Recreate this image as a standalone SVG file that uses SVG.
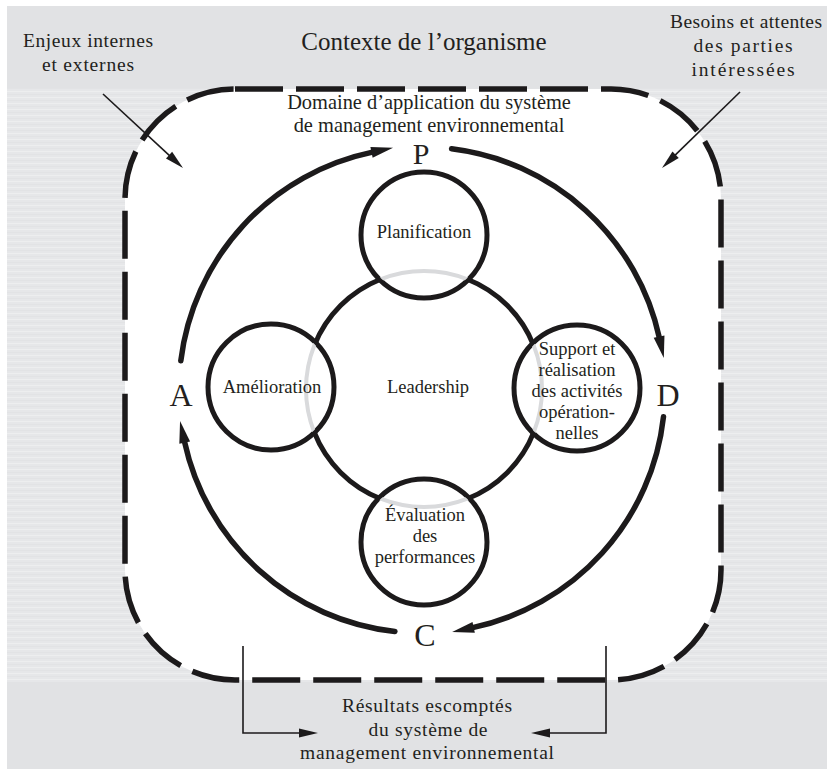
<svg xmlns="http://www.w3.org/2000/svg" width="827" height="769" viewBox="0 0 827 769">
<style>
.t{font-family:"Liberation Serif","DejaVu Serif",serif;fill:#231f20;text-anchor:middle}
.s17{font-size:19.5px}
.sn{font-size:18.5px}
.s19{font-size:20.4px}
.big{font-size:32px}
.node{fill:#fff;stroke:#1c1a1b;stroke-width:5}
.cyc{fill:none;stroke:#1c1a1b;stroke-width:5.5;stroke-linecap:round}
.thin{fill:none;stroke:#1c1a1b;stroke-width:1.6}
</style>
<defs>
<pattern id="stripes" width="40" height="6" patternUnits="userSpaceOnUse">
<rect width="40" height="6" fill="#e6e7e9"/>
<rect y="1" width="40" height="1" fill="#edeeef"/>
<rect y="4" width="40" height="1" fill="#e2e3e5"/>
</pattern>
<marker id="ahBig" markerUnits="userSpaceOnUse" markerWidth="30" markerHeight="30" refX="0" refY="0" orient="auto" overflow="visible">
<path d="M-1,-5.5 L21,0 L-1,5.5 z" fill="#1c1a1b"/>
</marker>
<marker id="ahThin" markerUnits="userSpaceOnUse" markerWidth="30" markerHeight="30" refX="0" refY="0" orient="auto" overflow="visible">
<path d="M-1,-4.5 L18,0 L-1,4.5 z" fill="#1c1a1b"/>
</marker>
<clipPath id="inSmall">
<circle cx="424" cy="235" r="61"/>
<circle cx="271" cy="387" r="61"/>
<circle cx="577" cy="388" r="61"/>
<circle cx="424" cy="542" r="61"/>
</clipPath>
</defs>

<g id="background">
<rect x="0" y="0" width="827" height="769" fill="#ffffff"/>
<rect x="7" y="6" width="820" height="763" fill="#e1e2e4"/>
<rect x="7" y="88" width="820" height="594" fill="url(#stripes)"/>
</g>

<g id="contexte">
<rect x="125" y="89" width="596" height="591" rx="110" ry="110" fill="#ffffff" stroke="#1c1a1b" stroke-width="5.5" stroke-dasharray="48 13"/>
<text class="t" x="424" y="50" font-size="25">Contexte de l’organisme</text>
</g>

<g id="enjeux">
<text class="t s17" x="88" y="47" textLength="130">Enjeux internes</text>
<text class="t s17" x="88" y="71" textLength="92">et externes</text>
</g>

<g id="besoins">
<text class="t s17" x="746" y="28" textLength="152">Besoins et attentes</text>
<text class="t s17" x="743" y="52" textLength="99">des parties</text>
<text class="t s17" x="743" y="76" textLength="103">intéressées</text>
</g>

<g id="domaine">
<text class="t s19" x="429" y="109">Domaine d’application du système</text>
<text class="t s19" x="429" y="132">de management environnemental</text>
</g>

<g id="resultats">
<text class="t s17" x="427" y="712" textLength="170">Résultats escomptés</text>
<text class="t s17" x="428" y="736" textLength="119">du système de</text>
<text class="t s17" x="427" y="759" textLength="254">management environnemental</text>
</g>

<g id="leadership">
<circle cx="424" cy="389" r="118" fill="none" stroke="#1c1a1b" stroke-width="5"/>
<text class="t sn" x="428" y="393">Leadership</text>
</g>

<g id="planification">
<circle class="node" cx="424" cy="235" r="63"/>
</g>
<g id="amelioration">
<circle class="node" cx="271" cy="387" r="63"/>
</g>
<g id="support">
<circle class="node" cx="577" cy="388" r="63"/>
</g>
<g id="evaluation">
<circle class="node" cx="424" cy="542" r="63"/>
</g>

<g id="leadership-ring" clip-path="url(#inSmall)">
<circle cx="424" cy="389" r="118" fill="none" stroke="#d9dadc" stroke-width="4"/>
</g>

<g id="labels">
<text class="t sn" x="424" y="238">Planification</text>
<text class="t sn" x="272" y="393">Amélioration</text>
<text class="t sn" x="577" y="355">Support et</text>
<text class="t sn" x="577" y="376">réalisation</text>
<text class="t sn" x="577" y="397">des activités</text>
<text class="t sn" x="577" y="418">opération-</text>
<text class="t sn" x="577" y="439">nelles</text>
<text class="t sn" x="425" y="521">Évaluation</text>
<text class="t sn" x="425" y="542">des</text>
<text class="t sn" x="425" y="563">performances</text>
</g>

<g id="pdca">
<text class="t" x="421" y="164" font-size="30">P</text>
<text class="t big" x="668" y="406">D</text>
<text class="t big" x="425" y="646">C</text>
<text class="t big" x="181" y="406">A</text>
</g>

<g id="connectors">
<path class="cyc" d="M180.8,360.8 A243,243 0 0 1 372.5,152.1" marker-end="url(#ahBig)"/>
<path class="cyc" d="M451.6,148.8 A243,243 0 0 1 659.3,337.6" marker-end="url(#ahBig)"/>
<path class="cyc" d="M663.5,416.7 A243,243 0 0 1 472.7,627.6" marker-end="url(#ahBig)"/>
<path class="cyc" d="M394.9,631.5 A243,243 0 0 1 184.5,441.6" marker-end="url(#ahBig)"/>
<path class="thin" d="M103,94 L169.8,155.8" marker-end="url(#ahThin)"/>
<path class="thin" d="M740,92 L674.9,155.4" marker-end="url(#ahThin)"/>
<path class="thin" d="M243,646 V733 H300" marker-end="url(#ahThin)"/>
<path class="thin" d="M606,646 V733 H549" marker-end="url(#ahThin)"/>
</g>
</svg>
